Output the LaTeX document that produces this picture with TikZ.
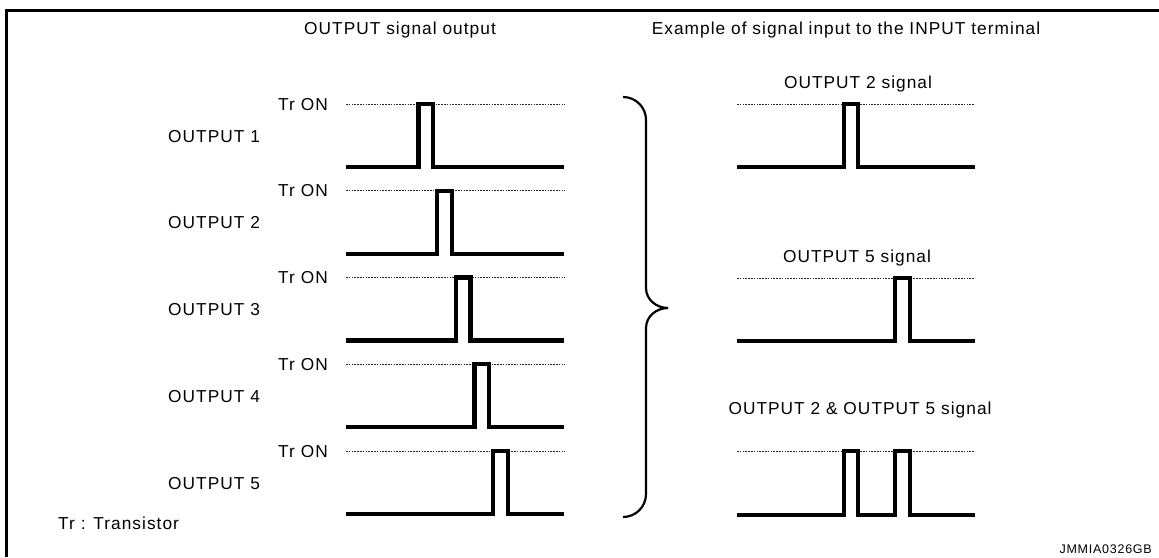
\documentclass[tikz,border=0pt]{standalone}
\usepackage{fontspec}
\setmainfont{Liberation Sans}[LetterSpace=6]
\begin{document}
\begin{tikzpicture}[x=1pt,y=-1pt,
  lbl/.style={inner sep=0pt,font=\fontsize{17.3}{20}\selectfont},
  tiny/.style={inner sep=0pt,font=\fontsize{12.5}{14}\selectfont},
  wave/.style={line width=4.3pt,line join=miter,line cap=butt},
  onlevel/.style={line width=0.9pt,dash pattern=on 1.6pt off 1.2pt,black!85},
  bracestyle/.style={line width=2.2pt},
  frame/.style={line width=3pt}]
\useasboundingbox (0,0) rectangle (1159,557);
% frame
\draw[frame] (6,557) -- (6,10) -- (1159,10);
% headers
\node[lbl,anchor=base] (hL) at (400,34) {OUTPUT signal output};
\node[lbl,anchor=base] (hR) at (846,34) {Example of signal input to the INPUT terminal};
% left column
\foreach \i/\n in {0/1,1/2,2/3,3/4,4/5}{
  \pgfmathsetmacro{\dy}{86.75*\i}
  \pgfmathsetmacro{\rx}{418.5+18.7*\i}
  \pgfmathsetmacro{\fx}{433+18.7*\i}
  \node[lbl,anchor=base east] (tr\n) at (328,110+\dy) {Tr ON};
  \node[lbl,anchor=base west] (out\n) at (168,142+\dy) {OUTPUT \n};
  \draw[onlevel] (346,104+\dy) -- (565,104+\dy);
  \draw[wave] (346,167+\dy) -- (\rx,167+\dy) -- (\rx,104+\dy) -- (\fx,104+\dy) -- (\fx,167+\dy) -- (564,167+\dy);
}
\node[lbl,anchor=base west] (note) at (58,529) {Tr : Transistor};
% brace
\draw[bracestyle] (623,97) to[out=0,in=90] (646,120) -- (646,288)
  to[out=-90,in=180] (668,308) to[out=180,in=90] (646,328) -- (646,494)
  to[out=-90,in=0] (623,517);
% right column
\node[lbl,anchor=base] (s2) at (858,88) {OUTPUT 2 signal};
\draw[onlevel] (737,104) -- (975,104);
\draw[wave] (737,167) -- (844,167) -- (844,104) -- (858,104) -- (858,167) -- (975,167);
\node[lbl,anchor=base] (s5) at (857,262) {OUTPUT 5 signal};
\draw[onlevel] (737,278) -- (975,278);
\draw[wave] (737,341) -- (895,341) -- (895,278) -- (910,278) -- (910,341) -- (975,341);
\node[lbl,anchor=base] (s25) at (860,414) {OUTPUT 2 \& OUTPUT 5 signal};
\draw[onlevel] (737,451) -- (975,451);
\draw[wave] (737,515) -- (844,515) -- (844,451) -- (858,451) -- (858,515) -- (895,515) -- (895,451) -- (910,451) -- (910,515) -- (975,515);
% code
\node[tiny,anchor=base east] (code) at (1152,553) {JMMIA0326GB};
\end{tikzpicture}
\end{document}
